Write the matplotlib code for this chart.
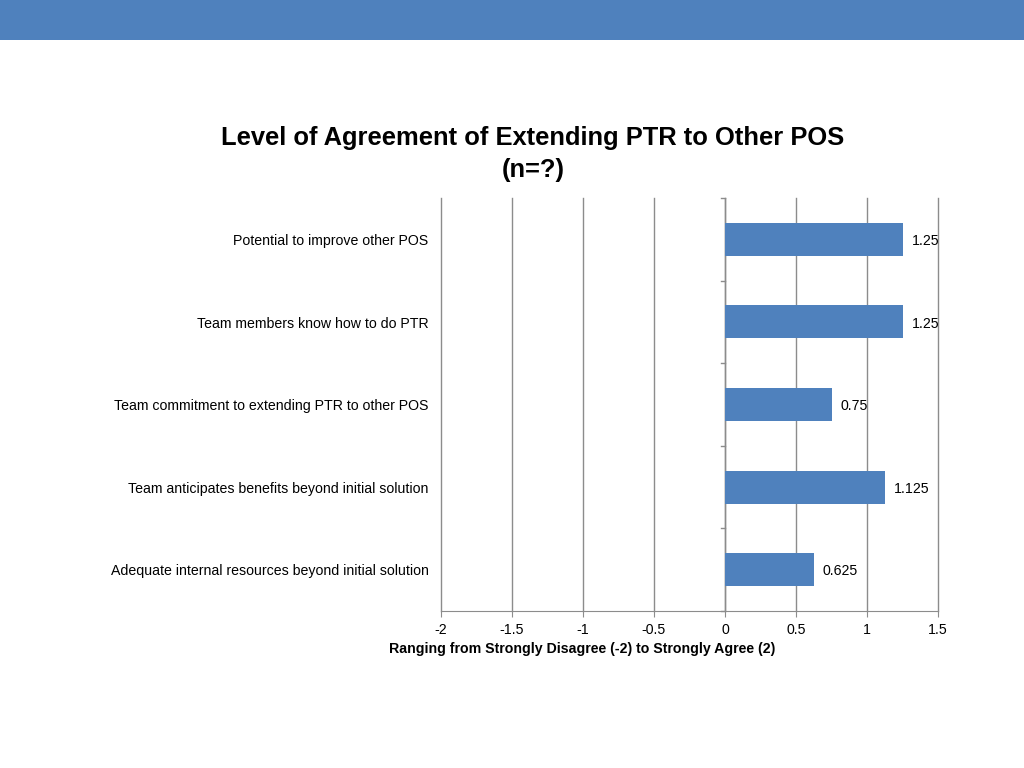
import matplotlib
matplotlib.use("Agg")
import matplotlib.pyplot as plt
from matplotlib.patches import Rectangle

categories = [
    "Potential to improve other POS",
    "Team members know how to do PTR",
    "Team commitment to extending PTR to other POS",
    "Team anticipates benefits beyond initial solution",
    "Adequate internal resources beyond initial solution",
]
values = [1.25, 1.25, 0.75, 1.125, 0.625]
value_labels = ["1.25", "1.25", "0.75", "1.125", "0.625"]
xticks = [-2, -1.5, -1, -0.5, 0, 0.5, 1, 1.5]
xtick_labels = ["-2", "-1.5", "-1", "-0.5", "0", "0.5", "1", "1.5"]

plt.rcParams['font.family'] = ['Liberation Sans', 'DejaVu Sans']
bar_color = "#4F81BD"
grid_color = "#8C8C8C"
fs = 10.2

fig = plt.figure(figsize=(10.24, 7.68), dpi=100)
fig.patches.append(Rectangle((0, 1 - 40/768), 1, 40/768, transform=fig.transFigure,
                             facecolor="#4F81BD", edgecolor="none", zorder=0))

ax = fig.add_axes([441/1024, 1 - 611/768, 497/1024, 413/768])
n = len(categories)
ypos = list(range(n))
ax.barh(ypos, values, height=0.4, color=bar_color, zorder=3)
ax.set_ylim(n - 0.5, -0.5)
ax.set_xlim(-2, 1.5)
ax.set_xticks(xticks)
ax.set_xticklabels(xtick_labels, fontsize=fs)
ax.tick_params(axis='x', length=4, color=grid_color, pad=4.5)
for x in xticks:
    ax.axvline(x, color=grid_color, lw=1, zorder=1, clip_on=False)

for s in ["top", "right", "left"]:
    ax.spines[s].set_visible(False)
ax.spines["bottom"].set_color(grid_color)
ax.axvline(0, color=grid_color, lw=1, zorder=2)
ax.set_yticks([])
for b in [i - 0.5 for i in range(n + 1)]:
    ax.plot([-0.03, 0], [b, b], color=grid_color, lw=1, clip_on=False, zorder=2)

for i, (v, lab) in enumerate(zip(values, value_labels)):
    ax.annotate(lab, (v, i), xytext=(6.5, -1.2), textcoords="offset points",
                va="center", ha="left", fontsize=fs, zorder=4)
    ax.annotate(categories[i], (-2, i), xytext=(-9, -1.2), textcoords="offset points",
                va="center", ha="right", fontsize=fs, annotation_clip=False)

fig.text(533/1024, 1 - 138.5/768, "Level of Agreement of Extending PTR to Other POS",
         ha="center", va="center", fontsize=18.4, fontweight="bold")
fig.text(533/1024, 1 - 169.5/768, "(n=?)", ha="center", va="center",
         fontsize=18.4, fontweight="bold")
fig.text(582/1024, 1 - 649/768,
         "Ranging from Strongly Disagree (-2) to Strongly Agree (2)",
         ha="center", va="center", fontsize=fs, fontweight="bold")

fig.savefig("out.png", dpi=100)
